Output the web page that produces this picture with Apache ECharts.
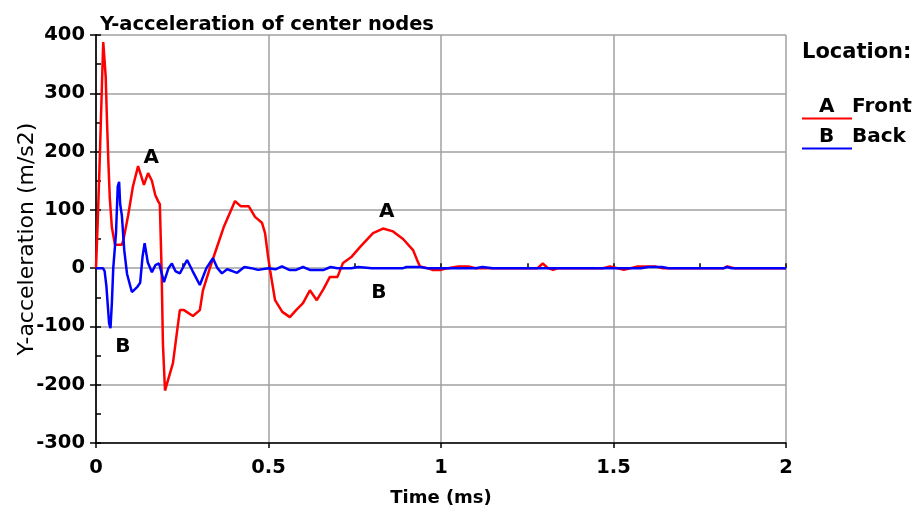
<!DOCTYPE html>
<html>
<head>
<meta charset="utf-8">
<script src="https://cdn.jsdelivr.net/npm/echarts@6/dist/echarts.min.js"></script>
<style>html,body{margin:0;padding:0;background:#fff;}#chart{width:917px;height:515px;}</style>
</head>
<body>
<div id="chart"></div>
<script>
// Time (ms) and Y-acceleration (m/s2) for location A (Front)
var frontT = [0, 0.005, 0.010, 0.014, 0.018, 0.021, 0.025, 0.028, 0.032, 0.036, 0.040, 0.046, 0.055, 0.075, 0.080, 0.093, 0.107, 0.122, 0.130, 0.139, 0.151, 0.162, 0.172, 0.180, 0.185, 0.190, 0.194, 0.200, 0.223, 0.243, 0.255, 0.281, 0.301, 0.310, 0.330, 0.350, 0.370, 0.392, 0.403, 0.420, 0.443, 0.461, 0.481, 0.490, 0.499, 0.505, 0.519, 0.540, 0.562, 0.580, 0.600, 0.620, 0.640, 0.660, 0.678, 0.700, 0.716, 0.740, 0.765, 0.803, 0.832, 0.861, 0.890, 0.919, 0.930, 0.939, 0.960, 0.975, 1.000, 1.020, 1.050, 1.080, 1.100, 1.140, 1.280, 1.295, 1.310, 1.325, 1.340, 1.470, 1.490, 1.510, 1.530, 1.550, 1.570, 1.620, 1.640, 1.820, 1.830, 1.850, 2.000];
var frontV = [0, 80, 170, 250, 330, 388, 385, 330, 250, 180, 120, 70, 40, 40, 50, 90, 140, 175, 160, 143, 163, 150, 125, 115, 110, 0, -130, -210, -163, -72, -72, -82, -72, -38, 0, 35, 70, 100, 115, 106, 106, 88, 78, 60, 19, -5, -55, -75, -84, -72, -60, -38, -55, -35, -15, -15, 9, 19, 36, 60, 68, 63, 50, 31, 15, 3, 0, -3, -3, 0, 3, 3, 0, 0, 0, 8, 0, -3, 0, 0, 3, 0, -3, 0, 3, 3, 0, 0, 3, 0, 0];
// Location B (Back)
var backT = [0, 0.020, 0.025, 0.030, 0.038, 0.042, 0.046, 0.050, 0.058, 0.063, 0.067, 0.070, 0.075, 0.082, 0.090, 0.104, 0.120, 0.128, 0.135, 0.141, 0.150, 0.162, 0.172, 0.183, 0.197, 0.210, 0.220, 0.230, 0.243, 0.264, 0.280, 0.301, 0.320, 0.339, 0.352, 0.365, 0.380, 0.395, 0.409, 0.430, 0.450, 0.470, 0.500, 0.520, 0.539, 0.560, 0.580, 0.600, 0.620, 0.660, 0.680, 0.700, 0.740, 0.760, 0.800, 0.890, 0.900, 0.940, 0.960, 1.000, 1.100, 1.120, 1.150, 1.580, 1.600, 1.640, 1.660, 1.820, 1.830, 1.840, 2.000];
var backV = [0, 0, -5, -30, -95, -103, -60, 0, 60, 140, 148, 110, 90, 30, -10, -41, -32, -25, 20, 43, 10, -7, 5, 8, -24, 0, 8, -5, -9, 14, -5, -29, 0, 17, 0, -9, -2, -5, -8, 2, 0, -3, 0, -2, 3, -3, -3, 2, -3, -3, 2, 0, 0, 2, 0, 0, 2, 2, 0, 0, 0, 2, 0, 0, 2, 2, 0, 0, 2, 0, 0];
// Axis ticks
var xTicks = [0, 0.5, 1, 1.5, 2];
var yTicks = [-300, -200, -100, 0, 100, 200, 300, 400];
// Curve annotations: [time, value, text]
var annotA = [[0.16, 190, 'A'], [0.843, 96, 'A']];
var annotB = [[0.078, -135, 'B'], [0.82, -43, 'B']];

function pairs(t, v) { return t.map(function (x, i) { return [x, v[i]]; }); }
var FONT = 'DejaVu Sans';
function marks(list) {
  return {
    symbol: 'circle', symbolSize: 0, silent: true,
    label: { show: true, position: 'inside', color: '#000', fontFamily: FONT, fontWeight: 'bold', fontSize: 20,
      formatter: function (p) { return p.name; } },
    data: list.map(function (a) { return { coord: [a[0], a[1]], name: a[2] }; })
  };
}
var chart = echarts.init(document.getElementById('chart'), null, { renderer: 'canvas' });
var LF = 'bold 20px "DejaVu Sans"';
var option = {
  animation: false,
  backgroundColor: '#fff',
  textStyle: { fontFamily: FONT },
  title: {
    text: 'Y-acceleration of center nodes', left: 95, top: 10,
    textStyle: { fontFamily: FONT, fontWeight: 'bold', fontSize: 19.5, color: '#000' }
  },
  grid: { left: 96, right: 131, top: 35, bottom: 72, outerBoundsMode: 'none', containLabel: false },
  xAxis: [{
    type: 'value', min: xTicks[0], max: xTicks[xTicks.length - 1], interval: 0.5,
    name: 'Time (ms)', nameLocation: 'middle', nameGap: 46, nameMoveOverlap: false,
    nameTextStyle: { fontFamily: FONT, fontWeight: 'bold', fontSize: 18, color: '#000' },
    axisLine: { show: true, onZero: false, lineStyle: { color: '#000', width: 1.5 } },
    axisTick: { show: true, inside: false, length: 5, lineStyle: { color: '#000', width: 1.5 } },
    axisLabel: { fontFamily: FONT, fontWeight: 'bold', fontSize: 19.5, color: '#000', margin: 15 },
    splitLine: { show: true, lineStyle: { color: '#a0a0a0', width: 1.5 } }
  }, {
    type: 'value', min: 0, max: 2, interval: 0.25, position: 'bottom',
    axisLine: { show: false }, axisLabel: { show: false }, splitLine: { show: false },
    axisTick: { show: true, inside: true, length: 5, lineStyle: { color: '#000', width: 1.5 } }
  }],
  yAxis: [{
    type: 'value', min: yTicks[0], max: yTicks[yTicks.length - 1], interval: 100,
    name: 'Y-acceleration (m/s2)', nameLocation: 'middle', nameGap: 58, nameRotate: 90, nameMoveOverlap: false,
    nameTextStyle: { fontFamily: FONT, fontSize: 22, color: '#000' },
    axisLine: { show: true, onZero: false, lineStyle: { color: '#000', width: 1.5 } },
    axisTick: { show: true, inside: false, length: 6, lineStyle: { color: '#000', width: 1.5 } },
    axisLabel: { fontFamily: FONT, fontWeight: 'bold', fontSize: 19.5, color: '#000', margin: 11 },
    splitLine: { show: true, lineStyle: { color: '#a0a0a0', width: 1.5 } }
  }, {
    type: 'value', min: -300, max: 400, interval: 50, position: 'left',
    axisLine: { show: false }, axisLabel: { show: false }, splitLine: { show: false },
    axisTick: { show: true, inside: true, length: 5, lineStyle: { color: '#000', width: 1.5 } }
  }, {
    type: 'value', min: -300, max: 400, interval: 100, position: 'right',
    axisLine: { show: true, lineStyle: { color: '#222', width: 1.5 } },
    axisLabel: { show: false }, splitLine: { show: false }, axisTick: { show: false }
  }],
  series: [{
    name: 'Front', type: 'line', data: pairs(frontT, frontV), showSymbol: false,
    lineStyle: { color: '#ff0000', width: 2.5 }, itemStyle: { color: '#ff0000' },
    markPoint: marks(annotA), z: 3
  }, {
    name: 'Back', type: 'line', data: pairs(backT, backV), showSymbol: false,
    lineStyle: { color: '#0000ff', width: 2.5 }, itemStyle: { color: '#0000ff' },
    markPoint: marks(annotB), z: 4
  }],
  graphic: [
    { type: 'text', left: 802, top: 42, style: { text: 'Location:', font: 'bold 21px "DejaVu Sans"', fill: '#000' } },
    { type: 'text', left: 819, top: 97, style: { text: 'A', font: LF, fill: '#000' } },
    { type: 'text', left: 852, top: 97, style: { text: 'Front', font: LF, fill: '#000' } },
    { type: 'line', shape: { x1: 802, y1: 118.5, x2: 852, y2: 118.5 }, style: { stroke: '#ff0000', lineWidth: 2 } },
    { type: 'text', left: 819, top: 127, style: { text: 'B', font: LF, fill: '#000' } },
    { type: 'text', left: 852, top: 127, style: { text: 'Back', font: LF, fill: '#000' } },
    { type: 'line', shape: { x1: 802, y1: 148.5, x2: 852, y2: 148.5 }, style: { stroke: '#0000ff', lineWidth: 2 } }
  ]
};
chart.setOption(option);
</script>
</body>
</html>
